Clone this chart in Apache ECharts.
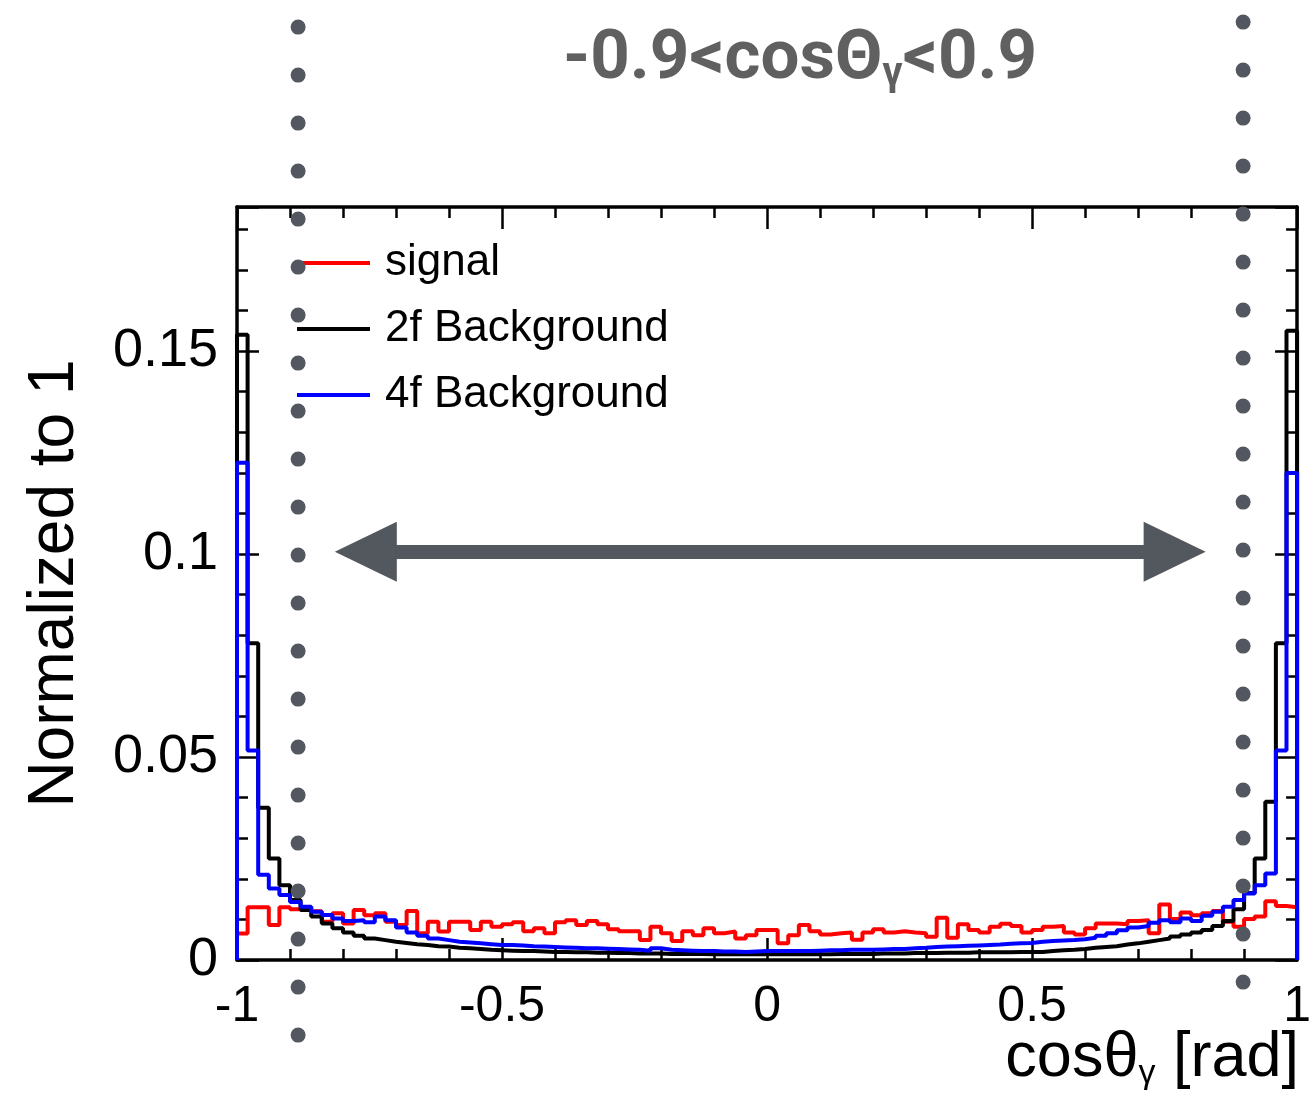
<!DOCTYPE html>
<html><head><meta charset="utf-8">
<script src="https://cdn.jsdelivr.net/npm/echarts@6/dist/echarts.min.js"></script>
<style>html,body{margin:0;padding:0;background:#fff}#c{width:1314px;height:1108px}</style>
</head><body><div id="c"></div>
<script>
// Histogram binning: 100 bins from -1 to 1
const binLow = -1, binWidth = 0.02;
const seriesNames = ['signal', '2f Background', '4f Background'];
const seriesColors = ['#ff0000', '#000000', '#0000ff'];

const signal = [
  0.0065, 0.013, 0.013, 0.0086, 0.013,
  0.0125, 0.013, 0.012, 0.0094, 0.0115, 0.009, 0.0123, 0.011, 0.0115, 0.0094,
  0.0086, 0.0121, 0.0066, 0.0094, 0.007, 0.0094, 0.0094, 0.0074, 0.0094, 0.0082,
  0.0088, 0.0093, 0.0071, 0.0078, 0.0066, 0.0093, 0.0098, 0.0086, 0.0096, 0.0088,
  0.0076, 0.0071, 0.0071, 0.0049, 0.0082, 0.0066, 0.0047, 0.0071, 0.0061, 0.0078,
  0.0066, 0.007, 0.0053, 0.0061, 0.0074,
  0.0074, 0.0041, 0.0061, 0.0086, 0.0071, 0.0063, 0.0066, 0.0068, 0.005, 0.0068,
  0.0076, 0.0068, 0.0071, 0.0068, 0.0066, 0.0057, 0.0104, 0.0055, 0.0088, 0.0074,
  0.0068, 0.0082, 0.0089, 0.0084, 0.0068,
  0.0074, 0.0082, 0.0084, 0.0068, 0.0063, 0.0078, 0.009, 0.009, 0.0088, 0.0096,
  0.0098, 0.0066, 0.0137, 0.0101, 0.0117, 0.011, 0.0115, 0.0121, 0.0094, 0.0082,
  0.0101, 0.0107, 0.0145, 0.0133, 0.013
];
const bg2f = [
  0.154, 0.078, 0.0375, 0.025, 0.0184, 0.0148, 0.0123, 0.0107, 0.009, 0.0078,
  0.0068, 0.006, 0.0053, 0.0049, 0.0045, 0.0042, 0.0039, 0.0037, 0.0034, 0.0033,
  0.003, 0.0029, 0.0027, 0.0025, 0.0024,
  0.0023, 0.0022, 0.0022, 0.0021, 0.002, 0.002, 0.0019, 0.0019, 0.0018, 0.0018,
  0.0017, 0.0017, 0.0016, 0.0016, 0.0016, 0.0015, 0.0015, 0.0015, 0.0015, 0.0014,
  0.0014, 0.0014, 0.0014, 0.0014, 0.0014,
  0.0014, 0.0014, 0.0014, 0.0014, 0.0014, 0.0014, 0.0015, 0.0015, 0.0015, 0.0015,
  0.0016, 0.0016, 0.0016, 0.0017, 0.0017, 0.0017, 0.0018, 0.0018, 0.0018, 0.0019,
  0.0019, 0.0019, 0.0019, 0.002, 0.002,
  0.002, 0.0022, 0.0024, 0.0025, 0.0027, 0.003, 0.0032, 0.0034, 0.0038, 0.0041,
  0.0045, 0.0049, 0.0053, 0.0058, 0.0063, 0.0068, 0.0074, 0.0084, 0.0096, 0.0125,
  0.0165, 0.025, 0.039, 0.078, 0.155
];
const bg4f = [
  0.1225, 0.0516, 0.021, 0.0176, 0.016, 0.0143, 0.0131, 0.0119, 0.0111, 0.0102,
  0.0096, 0.0098, 0.0093, 0.0107, 0.0098, 0.008, 0.0068, 0.006, 0.0053, 0.0049,
  0.0045, 0.0043, 0.0041, 0.0039, 0.0037,
  0.0037, 0.0036, 0.0034, 0.0033, 0.0032, 0.0031, 0.003, 0.0029, 0.0029, 0.0028,
  0.0027, 0.0026, 0.0025, 0.0023, 0.0029, 0.0025, 0.0024, 0.0023, 0.0022, 0.0022,
  0.0021, 0.0021, 0.002, 0.0021, 0.0022,
  0.0022, 0.0022, 0.0022, 0.0022, 0.0023, 0.0024, 0.0024, 0.0025, 0.0025, 0.0025,
  0.0026, 0.0027, 0.0027, 0.0029, 0.003, 0.0032, 0.0033, 0.0034, 0.0035, 0.0036,
  0.0037, 0.0038, 0.004, 0.0041, 0.0042,
  0.0045, 0.0047, 0.0048, 0.0049, 0.0051, 0.0055, 0.006, 0.0066, 0.0073, 0.008,
  0.0084, 0.0092, 0.0098, 0.0093, 0.0102, 0.0096, 0.0109, 0.0119, 0.0131, 0.0148,
  0.0164, 0.0184, 0.0213, 0.0516, 0.12
];

// Axis ranges / ticks
const xRange = [-1, 1], xInterval = 0.5;
const yRange = [0, 0.1855], yInterval = 0.05;

// Annotations: cut lines (cos values) and arrow
const cutLines = [-0.885, 0.893];
const cutDotsY = [[27, 1037], [22, 984]];   // pixel-space extent of dotted lines (overlay grid)
const arrowY = 0.1006, arrowEnds = [-0.757, 0.769];

function histPoints(vals) {
  const pts = [[binLow, 0]];
  vals.forEach((v, i) => pts.push([+(binLow + i * binWidth).toFixed(4), v]));
  const xEnd = +(binLow + vals.length * binWidth).toFixed(4);
  pts.push([xEnd, vals[vals.length - 1]]);
  pts.push([xEnd, 0]);
  return pts;
}

const FONT = 'Liberation Sans, Arial, Helvetica, sans-serif';
const frame = { show: true, onZero: false, lineStyle: { color: '#000', width: 3.5 } };
const tick = { show: true, inside: true, length: 22, lineStyle: { color: '#000', width: 2.5 } };
const minor = { show: true, splitNumber: 5, length: 11, lineStyle: { color: '#000', width: 2.5 } };

function xAx(pos, showLabel) {
  return {
    type: 'value', gridIndex: 0, position: pos, min: xRange[0], max: xRange[1], interval: xInterval,
    axisLine: frame, axisTick: tick, minorTick: minor, splitLine: { show: false },
    axisLabel: { show: showLabel, fontFamily: FONT, fontSize: 50, color: '#000', margin: 22,
      formatter: v => String(v) }
  };
}
function yAx(pos, showLabel) {
  return {
    type: 'value', gridIndex: 0, position: pos, min: yRange[0], max: yRange[1], interval: yInterval,
    axisLine: frame, axisTick: tick, minorTick: minor, splitLine: { show: false },
    axisLabel: { show: showLabel, fontFamily: FONT, fontSize: 54, color: '#000', margin: 19,
      showMaxLabel: false, formatter: v => String(v) },
    name: showLabel ? 'Normalized to 1' : '', nameLocation: 'middle', nameGap: 150, nameRotate: 90,
    nameTextStyle: { fontFamily: FONT, fontSize: 64, color: '#000' }
  };
}

const histSeries = [signal, bg2f, bg4f].map((vals, i) => ({
  name: seriesNames[i], type: 'line', xAxisIndex: 0, yAxisIndex: 0, step: 'end',
  data: histPoints(vals), showSymbol: false, symbol: 'none',
  lineStyle: { color: seriesColors[i], width: 4 }, itemStyle: { color: seriesColors[i] },
  animation: false, silent: true, z: 3 + i
}));

const arrowSeries = {
  type: 'line', xAxisIndex: 0, yAxisIndex: 0, data: [], animation: false, silent: true,
  markLine: {
    silent: true, animation: false, symbol: ['triangle', 'triangle'], symbolSize: [60, 62],
    label: { show: false }, emphasis: { disabled: true },
    lineStyle: { color: '#53585f', width: 14, type: 'solid', opacity: 1 },
    data: [[{ coord: [arrowEnds[0], arrowY] }, { coord: [arrowEnds[1], arrowY] }]]
  }
};

const dotSeries = cutLines.map((c, i) => ({
  type: 'line', xAxisIndex: 2, yAxisIndex: 2, data: [[c, cutDotsY[i][0]], [c, cutDotsY[i][1]]],
  showSymbol: false, symbol: 'none', animation: false, silent: true, z: 10, clip: false,
  lineStyle: { color: '#535860', width: 15, type: [0.1, 47.9], cap: 'round' }
}));

const option = {
  backgroundColor: '#fff',
  animation: false,
  grid: [
    { left: 237, right: 14, top: 207, bottom: 148 },
    { left: 237, right: 14, top: 0, bottom: 0 }
  ],
  xAxis: [ xAx('bottom', true), xAx('top', false),
    { type: 'value', gridIndex: 1, min: xRange[0], max: xRange[1], show: false } ],
  yAxis: [ yAx('left', true), yAx('right', false),
    { type: 'value', gridIndex: 1, min: 0, max: 1108, inverse: true, show: false } ],
  title: [
    { text: '{a|-0.9<cosΘ}{g|γ}{a|<0.9}', left: 563, top: 26, padding: 0,
      textStyle: { fontWeight: 'normal', rich: {
        a: { fontFamily: 'Roboto, sans-serif', fontWeight: 'bold', fontSize: 69, color: '#606060' },
        g: { fontFamily: 'Roboto, sans-serif', fontWeight: 'bold', fontSize: 40, color: '#606060', padding: [28, 0, 0, 0] }
      } } },
    { text: '{a|cosθ}{g|γ}{a| [rad]}', right: 10, top: 1022,
      textStyle: { fontWeight: 'normal', rich: {
        a: { fontFamily: FONT, fontWeight: 'normal', fontSize: 63, color: '#000' },
        g: { fontFamily: FONT, fontWeight: 'normal', fontSize: 34, color: '#000', padding: [30, 0, 0, 0] }
      } } }
  ],
  legend: {
    orient: 'vertical', left: 297, top: 230, padding: 0, itemWidth: 73, itemHeight: 4, itemGap: 0,
    icon: 'rect', data: seriesNames, selectedMode: false,
    textStyle: { fontFamily: FONT, fontSize: 44, color: '#000', lineHeight: 66, padding: [0, 0, 0, 10] }
  },
  series: [...histSeries, arrowSeries, ...dotSeries]
};

const chart = echarts.init(document.getElementById('c'), null, { renderer: 'canvas' });
chart.setOption(option);
</script>
</body></html>
